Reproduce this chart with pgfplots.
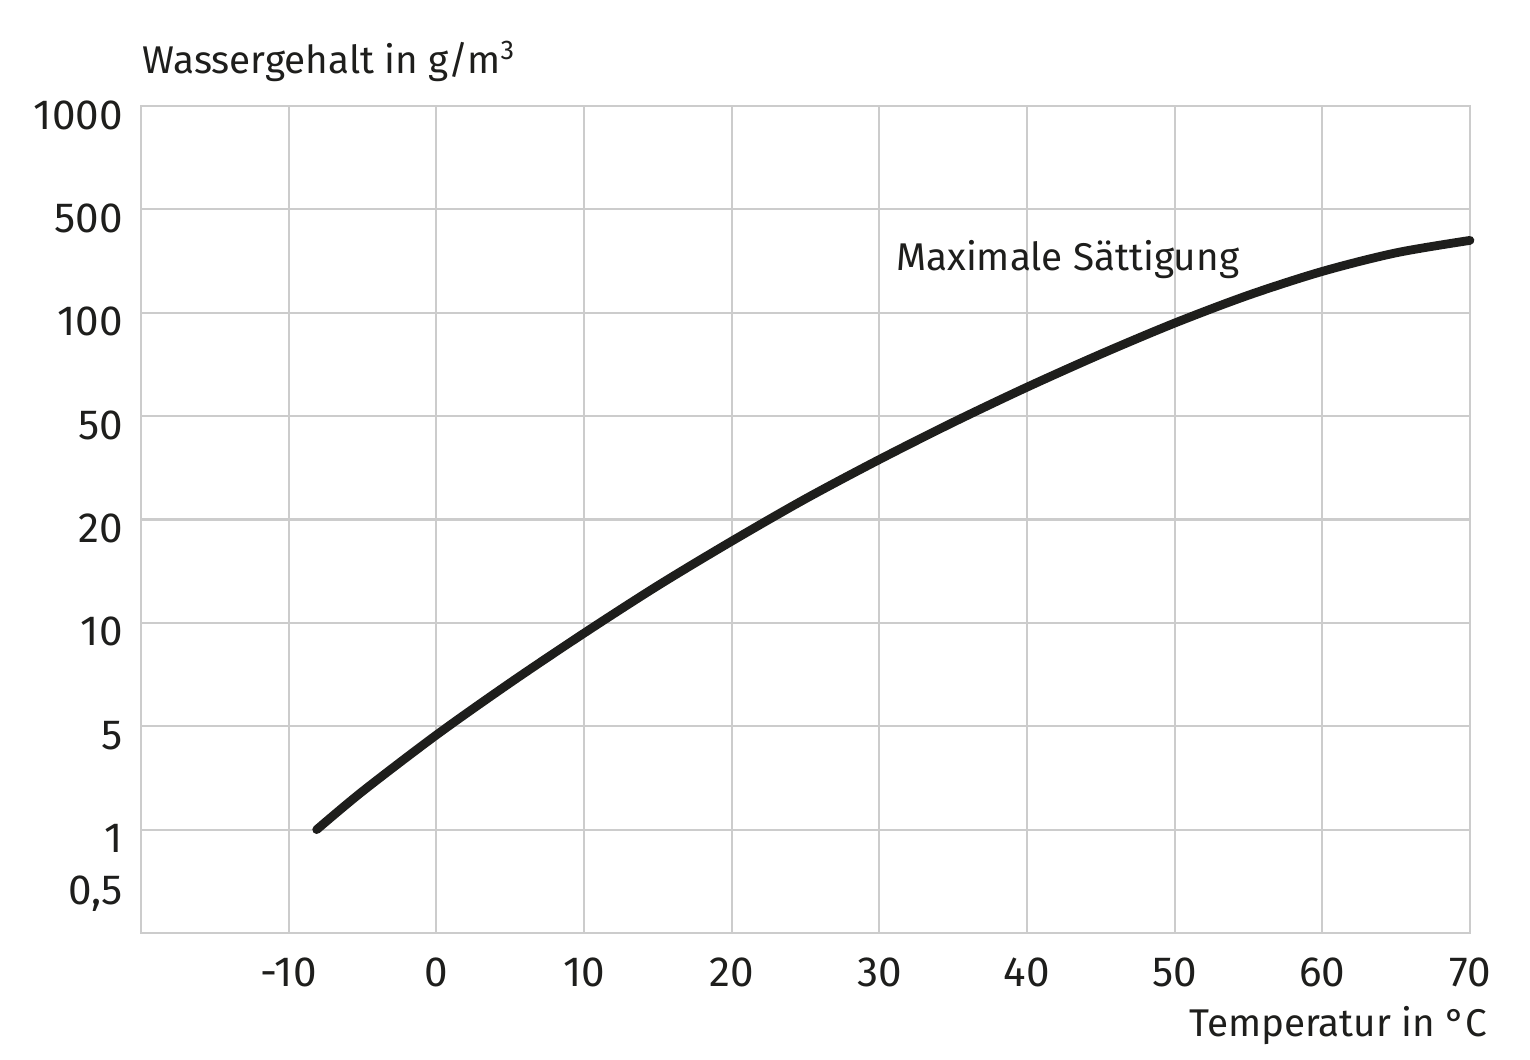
\documentclass[border=0pt]{standalone}
\usepackage{fontspec}
\setmainfont{Fira Sans}
\usepackage{pgfplots}
\pgfplotsset{compat=1.18}
\definecolor{gridc}{RGB}{204,204,204}
\definecolor{curvec}{RGB}{30,30,28}
\definecolor{textc}{RGB}{30,30,28}
\begin{document}
\fontsize{11}{13}\selectfont
\begin{tikzpicture}
\begin{axis}[
  width=132.9mm, height=82.7mm, scale only axis,
  xmin=-20, xmax=70, ymin=0, ymax=8,
  axis line style={gridc, line width=0.6pt},
  grid=major, major grid style={gridc, line width=0.6pt},
  xtick={-10,0,...,70}, xticklabels={-10,0,10,20,30,40,50,60,70},
  ytick={1,...,8}, yticklabels={1,5,10,20,50,100,500,1000},
  extra y ticks={0.5}, extra y tick labels={0{,}5},
  extra y tick style={grid=none},
  major tick length=0pt, tick style={draw=none},
  xticklabel style={anchor=base, inner sep=0pt, yshift=-5.4mm, text=textc, font=\fontsize{12}{14}\selectfont},
  yticklabel style={anchor=base east, inner sep=0pt, xshift=-1.75mm, yshift=-2.3mm, text=textc, font=\fontsize{12}{14}\selectfont},
  clip=false,
]
\addplot[curvec, line width=2.5pt, line cap=round, smooth, tension=0.5] coordinates {
  (-8.1,1.0) (-5,1.37) (0,1.915) (5,2.42) (10,2.90) (15,3.36) (20,3.79)
  (25,4.20) (30,4.58) (35,4.94) (40,5.28) (45,5.60) (50,5.90) (55,6.17)
  (60,6.40) (65,6.58) (70,6.70)
};
\node[anchor=base west, inner sep=0pt, text=textc] at (axis cs:31.1,6.41) {Maximale Sättigung};
\node[anchor=base west, inner sep=0pt, text=textc, xshift=0.1mm, yshift=3.3mm] at (rel axis cs:0,1) {Wassergehalt in g/m\textsuperscript{3}};
\node[anchor=base east, inner sep=0pt, text=textc, xshift=1.8mm, yshift=-10.4mm] at (rel axis cs:1,0) {Temperatur in °C};
\path (rel axis cs:-0.1061,-0.1524) rectangle (rel axis cs:1.0452,1.1282);
\end{axis}
\end{tikzpicture}
\end{document}
